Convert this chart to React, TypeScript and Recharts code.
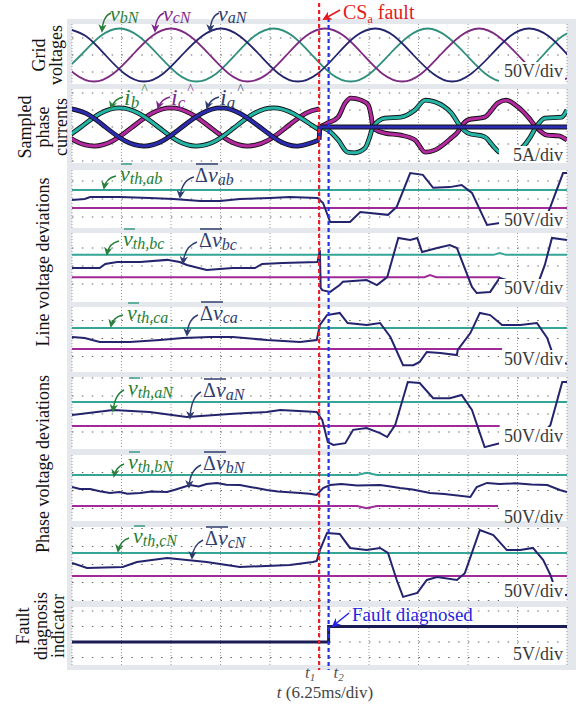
import { LineChart, Line, XAxis, YAxis, CartesianGrid, ReferenceLine } from 'recharts'

type Pt = [number, number]

// time base: 10 div x 6.25 ms
const T_END = 62.5
const timeDivs = [0, 6.25, 12.5, 18.75, 25, 31.25, 37.5, 43.75, 50, 56.25, 62.5]
const FAULT_T = 31.2 // t1
const DIAG_T = 32.4 // t2

// grid voltages, V  [t ms, v]
const vaN: Pt[] = [[-0.65, 78], [1.78, 55], [4.21, 0], [6.64, -55], [9.08, -78], [11.5, -55], [13.9, 0], [16.4, 55], [18.8, 78], [21.2, 55], [23.7, 0], [26.1, -55], [28.5, -78], [31.0, -55], [33.4, 0], [35.8, 55], [38.3, 78], [40.7, 55], [43.1, 0], [45.6, -55], [48.0, -78], [50.4, -55], [52.9, 0], [55.3, 55], [57.7, 78], [60.2, 55], [62.6, 0]]
const vbN: Pt[] = [[-1.3, -55], [1.13, 0], [3.57, 55], [6.0, 78], [8.43, 55], [10.9, 0], [13.3, -55], [15.7, -78], [18.2, -55], [20.6, 0], [23.0, 55], [25.45, 78], [27.9, 55], [30.3, 0], [32.7, -55], [35.2, -78], [37.6, -55], [40.0, 0], [42.5, 55], [44.9, 78], [47.3, 55], [49.8, 0], [52.2, -55], [54.6, -78], [57.1, -55], [59.5, 0], [61.9, 55], [64.4, 78]]
const vcN: Pt[] = [[-2.1, 0], [0.33, -55], [2.77, -78], [5.2, -55], [7.63, 0], [10.07, 55], [12.5, 78], [14.93, 55], [17.4, 0], [19.8, -55], [22.2, -78], [24.7, -55], [27.1, 0], [29.5, 55], [31.95, 78], [34.4, 55], [36.8, 0], [39.2, -55], [41.7, -78], [44.1, -55], [46.5, 0], [49.0, 55], [51.4, 78], [53.8, 55], [56.3, 0], [58.7, -55], [61.1, -78], [63.6, -55]]

// sampled phase currents, A
const iaPre: Pt[] = [[-0.65, 5.6], [1.78, 4.0], [4.21, 0], [6.64, -4.0], [9.08, -5.6], [11.5, -4.0], [13.9, 0], [16.4, 4.0], [18.8, 5.6], [21.2, 4.0], [23.7, 0], [26.1, -4.0], [28.5, -5.6], [31.2, -3.8]]
const iaPost: Pt[] = [[31.2, -3.8], [31.3, 0], [62.5, 0]]
const ibPre: Pt[] = [[-1.3, -4.0], [1.13, 0], [3.57, 4.0], [6.0, 5.6], [8.43, 4.0], [10.9, 0], [13.3, -4.0], [15.7, -5.6], [18.2, -4.0], [20.6, 0], [23.0, 4.0], [25.45, 5.6], [27.9, 4.0], [30.3, 0.5], [31.2, -0.8]]
const ibPost: Pt[] = [[31.3, 0], [32.3, -0.9], [33.6, -3.8], [34.8, -7.4], [35.7, -7.6], [37.0, -6.2], [37.6, -2.9], [38.0, 0], [39.5, 2.6], [41.5, 2.9], [43.3, 5.0], [44.6, 7.9], [45.8, 7.4], [47.9, 4.1], [49.1, 0], [50.0, -1.8], [52.1, -2.9], [53.4, -6.2], [54.0, -7.4], [55.0, -7.6], [56.0, -7.0], [56.9, -5.9], [57.8, -3.2], [58.6, 0], [59.7, 2.6], [61.8, 2.9], [62.5, 5.0]]
const icPre: Pt[] = [[-2.1, 0], [0.33, -4.0], [2.77, -5.6], [5.2, -4.0], [7.63, 0], [10.07, 4.0], [12.5, 5.6], [14.93, 4.0], [17.4, 0], [19.8, -4.0], [22.2, -5.6], [24.7, -4.0], [27.1, 0], [29.5, 4.0], [31.2, 5.3]]
const icPost: Pt[] = [[31.3, 0], [32.3, 1.2], [33.6, 2.9], [34.5, 7.1], [35.2, 8.5], [36.5, 7.9], [37.4, 6.5], [37.8, 2.9], [38.0, 0], [38.4, -0.9], [39.5, -1.8], [41.5, -2.4], [43.3, -3.8], [44.6, -7.4], [45.8, -6.8], [47.9, -3.2], [48.7, -1.5], [49.1, 0], [50.0, 2.1], [52.1, 2.9], [53.8, 7.1], [54.8, 7.9], [56.3, 5.9], [57.6, 2.9], [58.6, 0], [60.0, -2.4], [61.4, -2.6], [62.5, -3.8]]

// line voltage deviations, V
const abTh: Pt[] = [[0, 25], [62.5, 25]]
const abNeg: Pt[] = [[0, -25], [62.5, -25]]
const abDev: Pt[] = [[0, -2.8], [1.6, 0], [2.3, 5.6], [6.1, 5.6], [9.8, 2.8], [12.8, 0], [16.2, -5.6], [18.7, -5.6], [21.2, 0], [25.0, 2.8], [27.5, 5.6], [31.0, 2.8], [31.7, -11], [32.6, -64], [35.1, -64], [36.4, -36], [39.9, -44], [41.0, -22], [42.7, 72], [44.3, 67], [45.6, 31], [47.7, 33], [49.2, 39], [50.5, 17], [52.4, -72], [54.0, -67], [56.6, -67], [59.7, -60], [60.4, -22], [62.0, 72], [62.5, 72]]
const bcTh: Pt[] = [[0, 31], [53.2, 31], [54.0, 36], [54.8, 31], [62.5, 31]]
const bcNeg: Pt[] = [[0, -31], [44.5, -31], [45.2, -25], [46.0, -31], [54.0, -31]]
const bcDev: Pt[] = [[0, -5.6], [3.5, -5.6], [4.2, 5.6], [5.7, 11], [8.6, 11], [12.0, 17], [13.6, 11], [14.5, 2.8], [17.0, -11], [20.3, -5.6], [23.1, -5.6], [24.0, 5.6], [26.6, 8.3], [31.0, 11], [31.3, 44], [31.4, -61], [31.6, -67], [32.6, -72], [33.8, -53], [34.2, -44], [37.2, -39], [38.5, -53], [39.8, -31], [41.2, 78], [42.7, 72], [43.6, 78], [44.2, 39], [46.1, 50], [47.7, 58], [48.6, 50], [50.5, -58], [51.1, -75], [52.8, -72], [54.0, -33], [56.6, -50], [58.9, -45], [59.7, 3], [60.6, 78], [62.5, 72]]
const caTh: Pt[] = [[0, 29], [62.5, 29]]
const caNeg: Pt[] = [[0, -29], [54.3, -29]]
const caDev: Pt[] = [[0, 4.2], [1.6, 1.4], [3.5, -9.7], [7.3, -9.7], [11.1, -4.2], [14.0, 1.4], [17.4, 4.2], [20.3, 4.2], [24.6, -4.2], [28.8, -9.7], [30.9, -4.2], [31.3, 37.5], [32.2, 65], [33.8, 71], [34.8, 43], [37.2, 37.5], [38.9, 43], [40.2, 4.2], [41.8, -74], [43.1, -74], [43.9, -65], [44.8, -37.5], [46.5, -40], [48.6, -46], [48.7, -32], [50.3, 15], [51.5, 71], [52.8, 65], [54.3, 37.5], [56.6, 37.5], [58.7, 43], [60.0, 1.4], [60.4, -24], [61.0, -60], [62.5, -70]]

// phase voltage deviations, V
const aNTh: Pt[] = [[0, 33], [62.5, 33]]
const aNNeg: Pt[] = [[0, -33], [54.0, -33]]
const aNDev: Pt[] = [[0, -2.8], [5.2, 11], [9.8, 5.6], [14.5, -8.3], [19.9, 0], [24.6, 5.6], [26.3, 11], [30.9, 5.6], [31.6, -17], [32.3, -78], [33.0, -86], [34.5, -81], [35.5, -44], [37.2, -39], [38.9, -53], [39.8, -64], [40.8, -31], [42.4, 89], [43.9, 86], [45.6, 44], [47.7, 44], [49.2, 53], [50.5, 11], [52.1, -92], [54.0, -81], [56.6, -75], [59.1, -60], [60.4, -31], [61.9, 89], [62.5, 89]]
const bNTh: Pt[] = [[0, 43], [36.0, 43], [37.2, 49], [38.5, 43], [62.5, 43]]
const bNNeg: Pt[] = [[0, -43], [36.0, -43], [37.2, -49], [38.5, -43], [53.8, -43]]
const bNDev: Pt[] = [[0, 9.7], [1.0, 4], [2.3, 4.2], [3.5, -2], [4.8, -7], [6.0, -4], [7.0, -9], [8.6, -7], [10.0, -3], [12.0, -4.2], [13.0, 2], [14.9, 15], [16.0, 11], [17.0, 18], [18.3, 21], [19.5, 16], [21.2, 15], [22.5, 10], [24.6, 1.4], [26.0, -3], [28.8, -7], [30.0, -9], [30.9, -12.5], [31.7, 7], [32.6, 15], [34.0, 18], [36.0, 14], [38.9, 15], [40.0, 12], [41.4, 7], [43.0, 3], [45.2, -7], [47.0, -10], [50.3, -18], [51.1, 9.7], [52.4, 21], [54.0, 18], [56.0, 20], [58.0, 17], [60.0, 15], [61.6, 1.4], [62.5, -4.2]]
const cNTh: Pt[] = [[0, 32], [62.5, 32]]
const cNNeg: Pt[] = [[0, -32], [62.5, -32]]
const cNDev: Pt[] = [[0, 4.2], [1.9, -9.7], [6.4, -7], [8.2, 7], [12.0, 18], [17.0, 7], [21.2, -7], [27.5, -1.4], [30.4, 7], [30.9, 9.7], [31.3, 40], [32.2, 87.6], [33.8, 85], [35.1, 46], [37.2, 40], [38.9, 46], [39.9, 32], [41.0, -43], [41.8, -90], [43.6, -79], [44.8, -43], [46.1, -35], [48.6, -43], [49.6, -24], [51.5, 96], [53.2, 82], [54.9, 40], [56.6, 40], [58.2, 46], [59.5, 12.5], [60.4, -29], [61.2, -80], [62.0, -85], [62.5, -85]]

// fault diagnosis indicator, V
const faultFlag: Pt[] = [[0, 0], [DIAG_T, 5], [62.5, 5]]

const W = 582
const H = 711
const PLOT_L = 72
const PLOT_R = 567
const SERIF = "'Liberation Serif', 'Times New Roman', serif"

const C = {
  navy: '#24246e',
  green: '#2f8f7c',
  purple: '#7c2a82',
  teal: '#34a596',
  magenta: '#a12a99',
  cyan: '#25b5a6',
  pink: '#b4299f',
  blue: '#2b2bb0',
}

type Trace = { data: Pt[]; color: string; width?: number; curve?: 'linear' | 'natural' | 'monotone' | 'stepAfter'; outline?: boolean }
type PanelSpec = { top: number; bottom: number; zero: number; pxPerDiv: number; unit: number; scale: string; labelTop: number; traces: Trace[] }

const dev = (th: Pt[], neg: Pt[], d: Pt[]): Trace[] => [
  { data: th, color: C.teal, width: 2 },
  { data: neg, color: C.magenta, width: 2 },
  { data: d, color: C.navy, width: 2 },
]

const panels: PanelSpec[] = [
  { top: 24, bottom: 84, zero: 55, pxPerDiv: 17, unit: 50, scale: '50V/div', labelTop: 62, traces: [
    { data: vbN, color: C.green, width: 1.8, curve: 'natural' },
    { data: vcN, color: C.purple, width: 1.8, curve: 'natural' },
    { data: vaN, color: C.navy, width: 1.8, curve: 'natural' },
  ] },
  { top: 89, bottom: 163, zero: 127, pxPerDiv: 17, unit: 5, scale: '5A/div', labelTop: 146, traces: [
    { data: icPre, color: C.pink, width: 3, curve: 'natural', outline: true },
    { data: ibPre, color: C.cyan, width: 3, curve: 'natural', outline: true },
    { data: icPost, color: C.pink, width: 3, curve: 'monotone', outline: true },
    { data: ibPost, color: C.cyan, width: 3, curve: 'monotone', outline: true },
    { data: iaPre, color: C.blue, width: 3, curve: 'natural', outline: true },
    { data: iaPost, color: C.blue, width: 3, outline: true },
  ] },
  { top: 170, bottom: 228, zero: 199, pxPerDiv: 18, unit: 50, scale: '50V/div', labelTop: 211, traces: dev(abTh, abNeg, abDev) },
  { top: 233, bottom: 302, zero: 266, pxPerDiv: 18, unit: 50, scale: '50V/div', labelTop: 279, traces: dev(bcTh, bcNeg, bcDev) },
  { top: 307, bottom: 372, zero: 338.5, pxPerDiv: 18, unit: 50, scale: '50V/div', labelTop: 350, traces: dev(caTh, caNeg, caDev) },
  { top: 377, bottom: 449, zero: 414, pxPerDiv: 18, unit: 50, scale: '50V/div', labelTop: 427, traces: dev(aNTh, aNNeg, aNDev) },
  { top: 455, bottom: 521, zero: 490.5, pxPerDiv: 18, unit: 50, scale: '50V/div', labelTop: 508, traces: dev(bNTh, bNNeg, bNDev) },
  { top: 527, bottom: 601, zero: 564.5, pxPerDiv: 18, unit: 50, scale: '50V/div', labelTop: 582, traces: dev(cNTh, cNNeg, cNDev) },
  { top: 607, bottom: 665, zero: 642, pxPerDiv: 15.5, unit: 5, scale: '5V/div', labelTop: 645, traces: [
    { data: faultFlag, color: '#1c1c55', width: 3, curve: 'stepAfter' },
  ] },
]

const pts = (a: Pt[]) => a.map(([t, v]) => ({ t, v }))
const xOf = (t: number) => PLOT_L + (t / T_END) * (PLOT_R - PLOT_L)

function Panel({ spec }: { spec: PanelSpec }) {
  const { top, bottom, zero, pxPerDiv, unit, traces } = spec
  const h = bottom - top
  const k = unit / pxPerDiv
  const domain: [number, number] = [-(bottom - zero) * k, (zero - top) * k]
  const minor = unit / 5
  const ticks: number[] = []
  for (let i = Math.ceil(domain[0] / minor); i * minor <= domain[1]; i++) ticks.push(+(i * minor).toFixed(4))
  const hLines = ticks.filter((v) => Math.abs(v / unit - Math.round(v / unit)) < 1e-6 && v > domain[0] + 1e-6 && v < domain[1] - 1e-6)
  const axisProps = {
    type: 'number' as const,
    domain,
    allowDataOverflow: true,
    mirror: true,
    width: 0,
    ticks,
    interval: 0 as const,
    tick: false,
    tickSize: 3,
    tickLine: { stroke: '#777' },
    axisLine: { stroke: '#999' },
  }
  return (
    <div style={{ position: 'absolute', left: 0, top, width: W, height: h }}>
      <LineChart width={W} height={h} margin={{ top: 0, right: W - PLOT_R, bottom: 0, left: PLOT_L }}>
        <XAxis type="number" dataKey="t" domain={[0, T_END]} allowDataOverflow hide />
        <YAxis yAxisId="l" orientation="left" {...axisProps} />
        <YAxis yAxisId="r" orientation="right" {...axisProps} />
        <CartesianGrid yAxisId="l" fill="#fff" horizontal={false} verticalValues={timeDivs} stroke="#9a9a9a" strokeDasharray="1 2" />
        {hLines.map((v) => (
          <ReferenceLine key={`h${v}`} yAxisId="l" y={v} stroke="#666" strokeWidth={1.2} strokeDasharray="1.5 8.4" />
        ))}
        {traces.flatMap((tr, i) => {
          const d = pts(tr.data)
          const out = []
          if (tr.outline) {
            out.push(
              <Line key={`o${i}`} yAxisId="l" data={d} dataKey="v" type={tr.curve ?? 'linear'} stroke="#111" strokeWidth={(tr.width ?? 2) + 1.8} dot={false} isAnimationActive={false} />
            )
          }
          out.push(
            <Line key={`l${i}`} yAxisId="l" data={d} dataKey="v" type={tr.curve ?? 'linear'} stroke={tr.color} strokeWidth={tr.width ?? 2} dot={false} isAnimationActive={false} />
          )
          return out
        })}
      </LineChart>
    </div>
  )
}

const devAnno = [
  { sub: 'ab', vx: 120, vy: 181, dx: 195, dy: 182, g: [116, 176, 106, 178, 104, 188], n: [194, 177, 182, 180, 180, 197] },
  { sub: 'bc', vx: 123, vy: 246, dx: 199, dy: 247, g: [119, 241, 109, 243, 107, 254], n: [197, 242, 185, 246, 183, 263] },
  { sub: 'ca', vx: 127, vy: 320, dx: 200, dy: 320, g: [123, 315, 113, 317, 111, 326], n: [198, 315, 188, 319, 187, 335] },
  { sub: 'aN', vx: 128, vy: 395, dx: 203, dy: 397, g: [124, 390, 115, 394, 113, 411], n: [201, 392, 191, 397, 190, 418] },
  { sub: 'bN', vx: 128, vy: 469, dx: 203, dy: 470, g: [124, 464, 116, 467, 114, 476], n: [201, 465, 190, 470, 189, 487] },
  { sub: 'cN', vx: 133, vy: 543, dx: 205, dy: 545, g: [129, 538, 120, 541, 118, 551], n: [203, 540, 193, 545, 192, 558] },
]

const topAnno = [
  { name: 'bN', x: 110, color: '#2a7f3a', arrow: 'g' },
  { name: 'cN', x: 163, color: '#7e2a8c', arrow: 'p' },
  { name: 'aN', x: 218, color: '#2f3d6e', arrow: 'n' },
]
const curAnno = [
  { name: 'b', x: 124, color: '#2a7f3a', arrow: 'g' },
  { name: 'c', x: 171, color: '#7e2a8c', arrow: 'p' },
  { name: 'a', x: 220, color: '#2f3d6e', arrow: 'n' },
]

const q = (a: number[]) => `M${a[0]},${a[1]} Q${a[2]},${a[3]} ${a[4]},${a[5]}`

function Overlay() {
  const markers: [string, string][] = [['g', '#2a7f3a'], ['p', '#7e2a8c'], ['n', '#2f3d6e'], ['r', '#e41a1c'], ['b', '#2424e0']]
  const x1 = xOf(FAULT_T)
  const x2 = xOf(DIAG_T)
  const rot = (x: number, y: number) => `translate(${x},${y}) rotate(-90)`
  const title = { fontSize: 18, fill: '#111', textAnchor: 'middle' as const, dominantBaseline: 'central' as const }
  return (
    <svg width={W} height={H} style={{ position: 'absolute', left: 0, top: 0 }} fontFamily={SERIF}>
      <defs>
        {markers.map(([id, c]) => (
          <marker key={id} id={`ah-${id}`} viewBox="0 0 10 10" refX="8" refY="5" markerWidth="6" markerHeight="6" orient="auto">
            <path d="M0,0 L10,5 L0,10 L3,5 z" fill={c} />
          </marker>
        ))}
      </defs>

      {/* scale labels */}
      {panels.map((p, i) => (
        <g key={i}>
          <rect x={499} y={p.labelTop} width={66} height={p.bottom - p.labelTop} fill="#fff" />
          <text x={563} y={p.labelTop + 15} textAnchor="end" fontSize={18} fill="#3a3a3a">{p.scale}</text>
        </g>
      ))}

      {/* left titles */}
      <text transform={rot(39, 55)} {...title}>Grid</text>
      <text transform={rot(56, 55)} {...title}>voltages</text>
      <text transform={rot(25, 127)} {...title}>Sampled</text>
      <text transform={rot(43, 127)} {...title}>phase</text>
      <text transform={rot(61, 127)} {...title}>currents</text>
      <text transform={rot(43, 262)} {...title}>Line voltage deviations</text>
      <text transform={rot(43, 464)} {...title}>Phase voltage deviations</text>
      <text transform={rot(23, 626)} {...title}>Fault</text>
      <text transform={rot(41, 626)} {...title}>diagnosis</text>
      <text transform={rot(58, 626)} {...title}>indicator</text>

      {/* grid voltage names */}
      {topAnno.map((a) => (
        <g key={a.name}>
          <text x={a.x} y={21} fill={a.color} fontStyle="italic" fontSize={22}>
            v<tspan fontSize={16} dy={2}>{a.name}</tspan>
          </text>
          <path d={q([a.x + 1, 13, a.x - 7, 16, a.x - 8, 31])} fill="none" stroke={a.color} strokeWidth={1.4} markerEnd={`url(#ah-${a.arrow})`} />
        </g>
      ))}

      {/* current names */}
      {curAnno.map((a) => (
        <g key={a.name}>
          <text x={a.x} y={105} fill={a.color} fontStyle="italic" fontSize={24}>
            i<tspan fontSize={17} dy={3}>{a.name}</tspan>
            <tspan fontSize={14} dx={2} dy={-14} fontStyle="normal">^</tspan>
          </text>
          <path d={q([a.x - 1, 97, a.x - 10, 99, a.x - 13, 108])} fill="none" stroke={a.color} strokeWidth={1.4} markerEnd={`url(#ah-${a.arrow})`} />
        </g>
      ))}

      {/* deviation labels */}
      {devAnno.map((a) => (
        <g key={a.sub}>
          <line x1={a.vx + 1} x2={a.vx + 12} y1={a.vy - 17} y2={a.vy - 17} stroke="#3a9a8a" strokeWidth={1.5} />
          <text x={a.vx} y={a.vy} fill="#1f7f35" fontStyle="italic" fontSize={22}>
            v<tspan fontSize={16} dy={3}>{`th,${a.sub}`}</tspan>
          </text>
          <path d={q(a.g)} fill="none" stroke="#1f7f35" strokeWidth={1.4} markerEnd="url(#ah-g)" />
          <line x1={a.dx + 1} x2={a.dx + 23} y1={a.dy - 18} y2={a.dy - 18} stroke="#2f3d6e" strokeWidth={1.5} />
          <text x={a.dx} y={a.dy} fill="#2f3d6e" fontSize={20}>
            Δ<tspan fontStyle="italic" fontSize={22}>v</tspan>
            <tspan fontStyle="italic" fontSize={16} dy={3}>{a.sub}</tspan>
          </text>
          <path d={q(a.n)} fill="none" stroke="#2f3d6e" strokeWidth={1.4} markerEnd="url(#ah-n)" />
        </g>
      ))}

      {/* fault instants */}
      <line x1={x1} x2={x1} y1={3} y2={670} stroke="#e8202a" strokeWidth={2.2} strokeDasharray="4 3" />
      <line x1={x2} x2={x2} y1={18} y2={670} stroke="#2232e6" strokeWidth={2.2} strokeDasharray="4 3" />
      <text x={343} y={19} fill="#e41a1c" fontSize={20}>
        CS<tspan fontSize={12} dy={4}>a</tspan>
        <tspan dy={-4}> fault</tspan>
      </text>
      <path d="M340,10 L324,19" stroke="#e41a1c" strokeWidth={1.5} markerEnd="url(#ah-r)" />
      <text x={352} y={621} fill="#2424e0" fontSize={19}>Fault diagnosed</text>
      <path d="M349,613 L333,626" stroke="#2424e0" strokeWidth={1.5} markerEnd="url(#ah-b)" />

      {/* time labels */}
      <text x={x1 - 14} y={678} fill="#555" fontStyle="italic" fontSize={17}>
        t<tspan fontSize={11} dy={3}>1</tspan>
      </text>
      <text x={x2 + 5} y={678} fill="#555" fontStyle="italic" fontSize={17}>
        t<tspan fontSize={11} dy={3}>2</tspan>
      </text>
      <text x={325} y={698} textAnchor="middle" fill="#444" fontSize={17}>
        <tspan fontStyle="italic">t</tspan> (6.25ms/div)
      </text>
    </svg>
  )
}

export default function App() {
  return (
    <div style={{ position: 'absolute', left: 0, top: 0, width: W, height: H, background: '#fff', fontFamily: SERIF }}>
      <div style={{ position: 'absolute', left: 67, top: 19, width: 509, height: 651, background: '#e4e8ec' }} />
      {panels.map((p, i) => (
        <Panel key={i} spec={p} />
      ))}
      <Overlay />
    </div>
  )
}
